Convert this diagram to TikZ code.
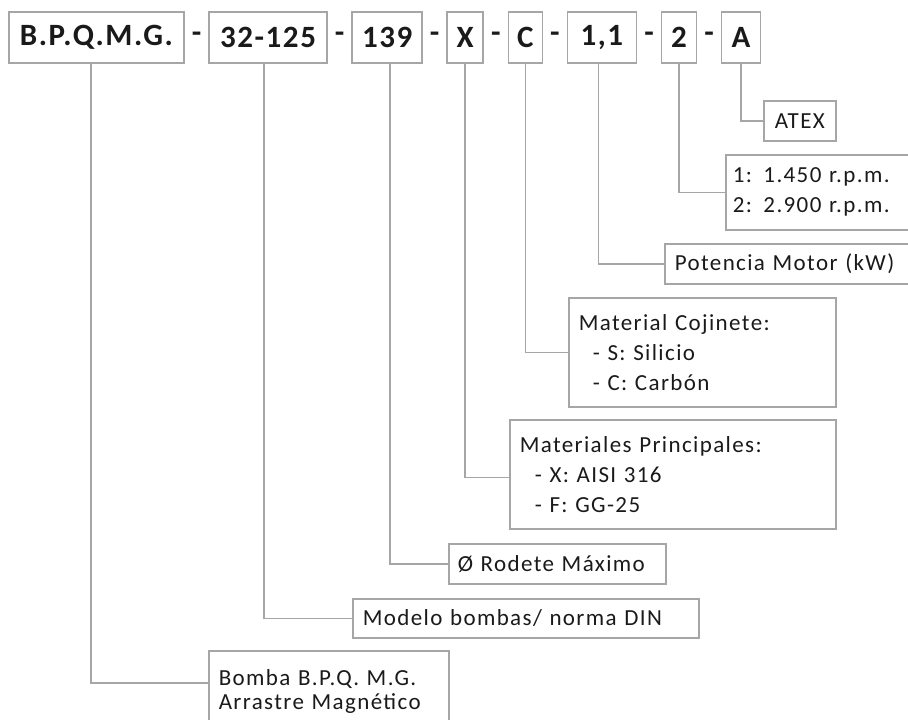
\documentclass[tikz,border=0pt]{standalone}
\usepackage{fontspec}
\setmainfont{Carlito}
\newfontfamily\codefont{Carlito}[LetterSpace=5]
\newfontfamily\infofont{Carlito}[LetterSpace=6]
\usetikzlibrary{positioning}
\definecolor{boxgray}{HTML}{A6A6A6}
\definecolor{inkgray}{HTML}{1A1A1A}

\begin{document}
\begin{tikzpicture}[
  x=1pt,y=-1pt,
  node distance=6.8pt,
  code/.style={draw=boxgray,line width=1.6pt,minimum height=51pt,inner sep=0pt,
    font=\codefont\fontsize{31}{33}\selectfont\bfseries,text=inkgray},
  sep/.style={inner sep=0pt,font=\fontsize{31}{33}\selectfont\bfseries,text=inkgray},
  info/.style={draw=boxgray,line width=1.6pt,anchor=north west,align=left,
    inner xsep=10pt,inner ysep=0pt,font=\infofont\fontsize{23}{30}\selectfont,text=inkgray},
  link/.style={draw=boxgray,line width=1.6pt}
]
\useasboundingbox (0,0) rectangle (908,720);
\clip (0,0) rectangle (908,720);

% code boxes
\node[code,minimum width=175pt] (bpqmg) at (96.5,37.5) {B.P.Q.M.G.};
\node[sep,right=of bpqmg] (d1) {-};
\node[code,minimum width=118pt,right=of d1] (model) {32-125};
\node[sep,right=of model] (d2) {-};
\node[code,minimum width=70pt,right=of d2] (rodete) {139};
\node[sep,right=of rodete] (d3) {-};
\node[code,minimum width=36pt,right=of d3] (matx) {X};
\node[sep,right=of matx] (d4) {-};
\node[code,minimum width=34pt,right=of d4] (matc) {C};
\node[sep,right=of matc] (d5) {-};
\node[code,minimum width=69pt,right=of d5] (power) {1,1};
\node[sep,right=of power] (d6) {-};
\node[code,minimum width=35pt,right=of d6] (speed) {2};
\node[sep,right=of speed] (d7) {-};
\node[code,minimum width=39pt,right=of d7] (atexcode) {A};

% meaning boxes
\node[info,text width=52pt,minimum height=40pt,align=center] (atex) at (763,100) {ATEX};
\node[info,inner xsep=7pt,text width=200pt,minimum height=75pt] (rpm) at (725,154)
  {1: 1.450 r.p.m.\\2: 2.900 r.p.m.};
\node[info,text width=240pt,minimum height=40pt] (pot) at (664,243) {Potencia Motor (kW)};
\node[info,text width=247pt,minimum height=109pt] (coj) at (568,297)
  {Material Cojinete:\\\hspace*{14pt}- S: Silicio\\\hspace*{14pt}- C: Carbón};
\node[info,text width=306pt,minimum height=109pt] (prin) at (509,419)
  {Materiales Principales:\\\hspace*{15pt}- X: AISI 316\\\hspace*{15pt}- F: GG-25};
\node[info,inner xsep=9pt,text width=199pt,minimum height=40pt] (rod) at (448,543) {Ø Rodete Máximo};
\node[info,text width=326pt,minimum height=39pt] (mod) at (352,598) {Modelo bombas/ norma DIN};
\node[info,text width=220pt,inner ysep=19pt,font=\infofont\fontsize{23}{24}\selectfont] (bomba) at (208,650)
  {Bomba B.P.Q. M.G.\\Arrastre Magnético\\~};

% connectors
\draw[link] (atexcode.south) |- (atex.west);
\draw[link] (speed.south) |- (rpm.west);
\draw[link] ([xshift=-3.5pt]power.south) |- (pot.west);
\draw[link] (matc.south) |- (coj.west);
\draw[link] (matx.south) |- ([yshift=-3pt]prin.west);
\draw[link] ([xshift=3pt]rodete.south) |- (rod.west);
\draw[link] ([xshift=-4pt]model.south) |- (mod.west);
\draw[link] ([xshift=-5.5pt]bpqmg.south) |- ([yshift=-33pt]bomba.north west);
\end{tikzpicture}
\end{document}
